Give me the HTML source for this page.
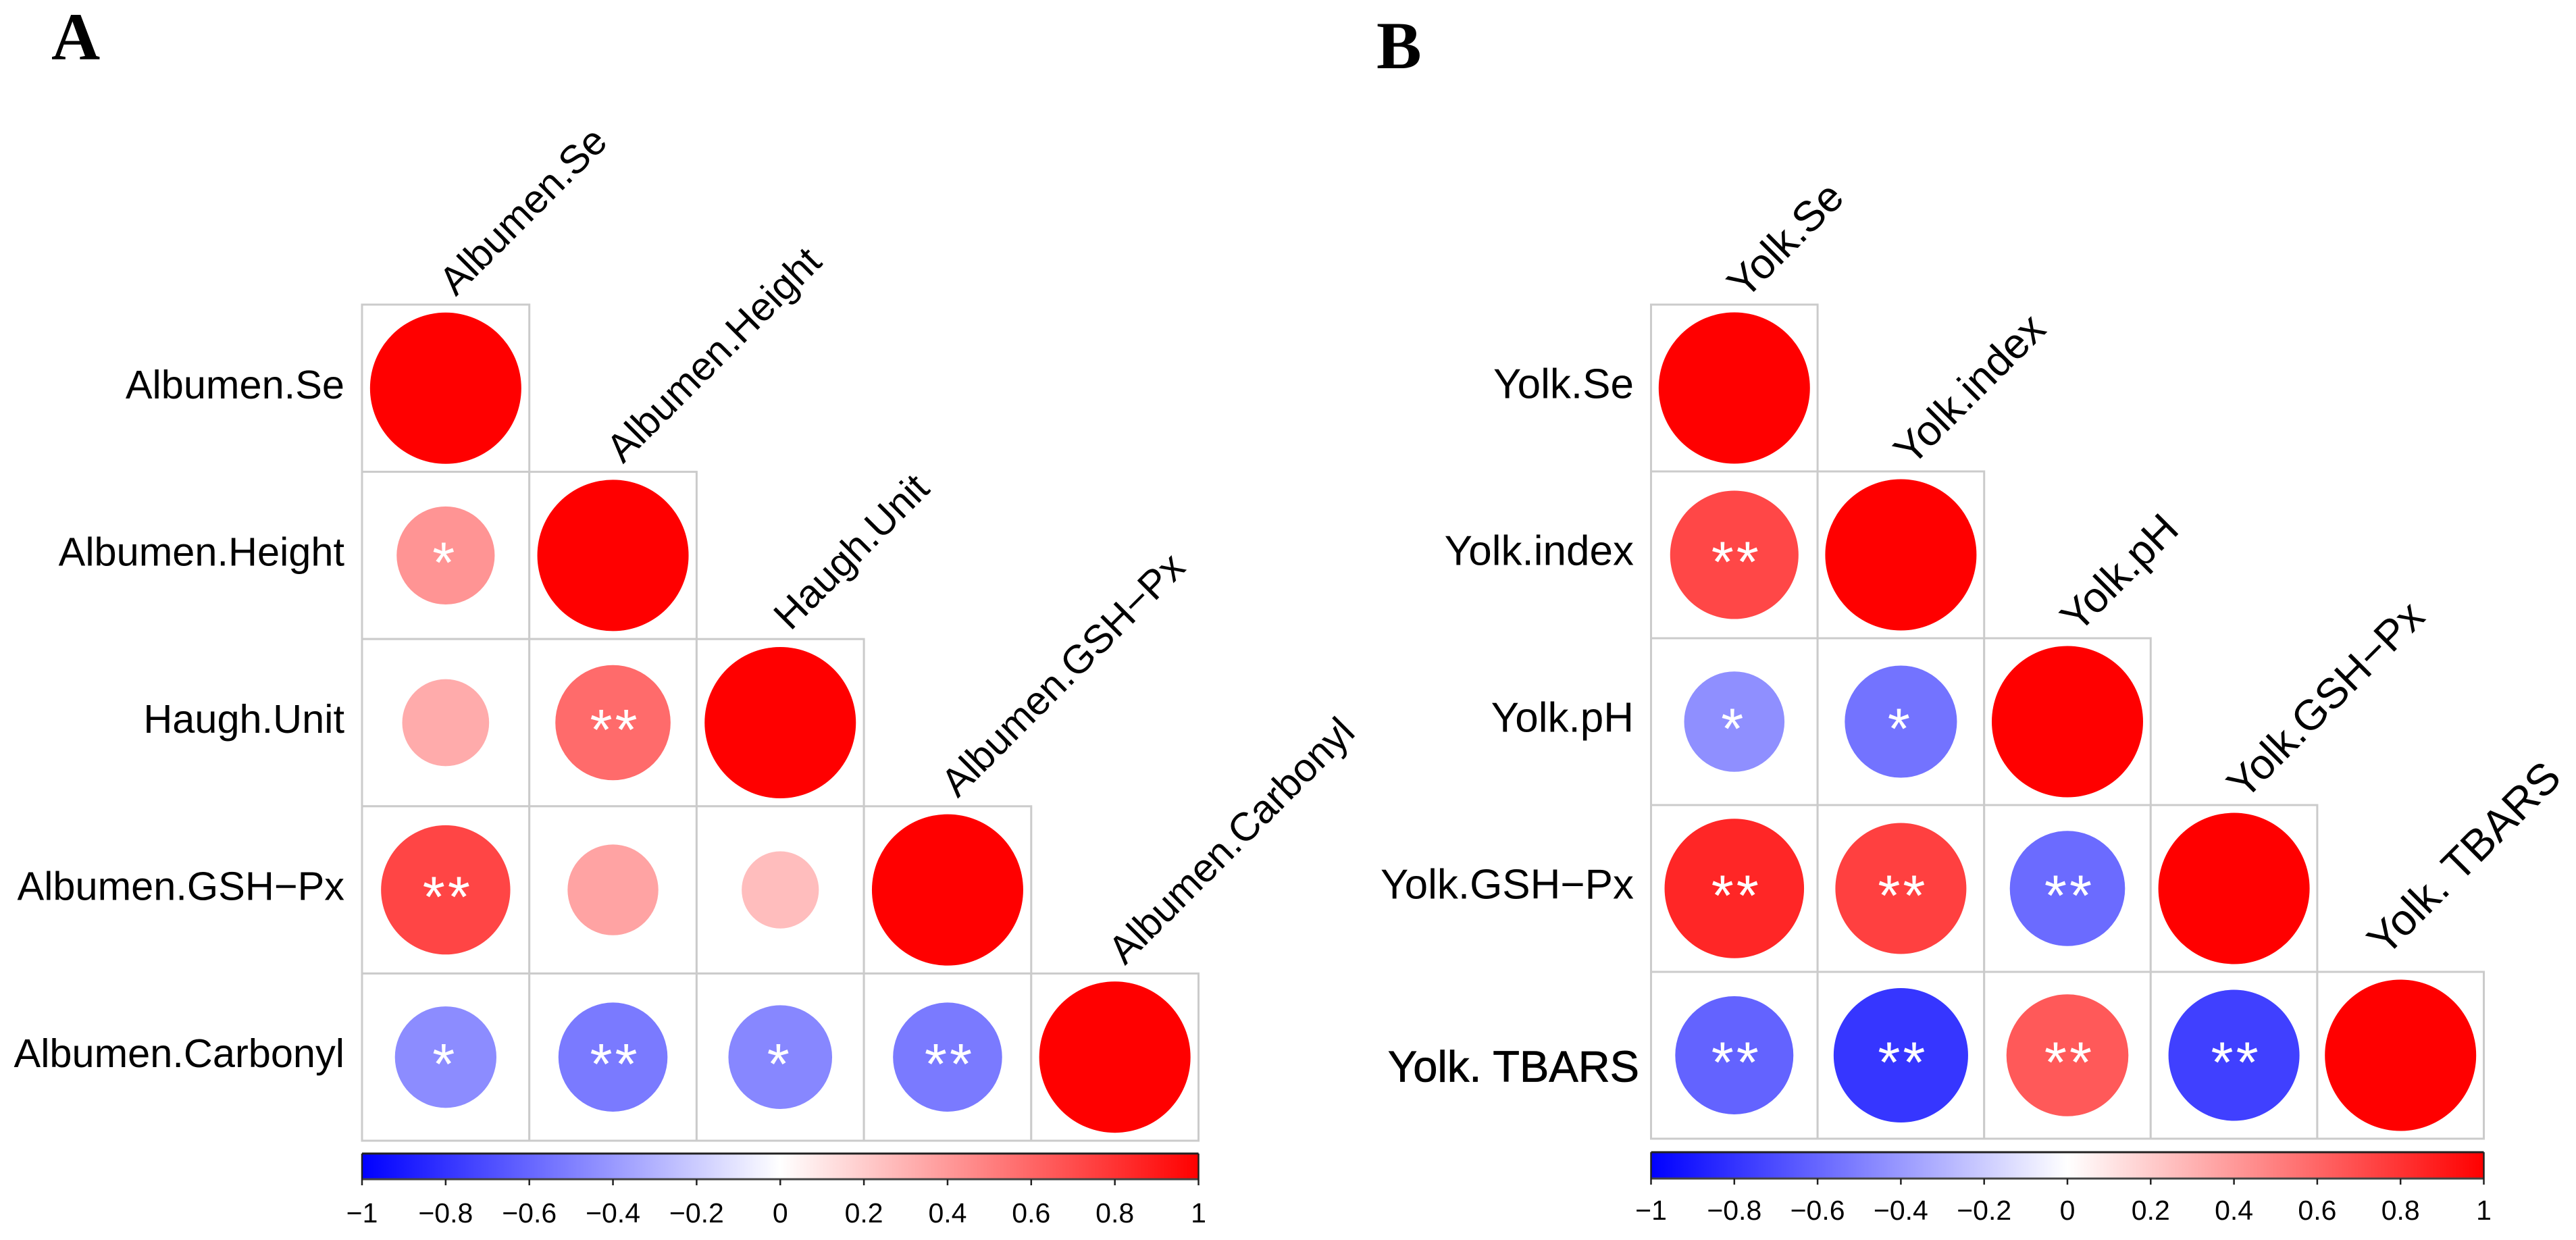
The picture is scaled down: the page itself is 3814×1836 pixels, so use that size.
<!DOCTYPE html>
<html lang="en">
<head>
<meta charset="utf-8">
<title>Correlation matrices: albumen and yolk traits</title>
<style>
html,body{margin:0;padding:0;background:#fff;width:3814px;height:1836px;overflow:hidden}
svg{display:block}
text{font-family:"Liberation Sans",Arial,sans-serif;fill:#000}
.panel-title{font-family:"Liberation Serif","Times New Roman",serif;font-weight:700;font-size:100px}
</style>
</head>
<body>
<svg id="figure" xmlns="http://www.w3.org/2000/svg" width="3814" height="1836" viewBox="0 0 3814 1836">
  <rect x="0" y="0" width="3814" height="1836" fill="#fff"/>
  <text class="panel-title" x="76" y="88">A</text>
  <text class="panel-title" x="2038" y="101">B</text>
  <g id="panel-a"></g>
  <g id="panel-b"></g>
</svg>
<script>
const labelsA = ['Albumen.Se', 'Albumen.Height', 'Haugh.Unit', 'Albumen.GSH\u2212Px', 'Albumen.Carbonyl'];
const labelsB = ['Yolk.Se', 'Yolk.index', 'Yolk.pH', 'Yolk.GSH\u2212Px', 'Yolk. TBARS'];

const valuesA = [
  [1],
  [0.42, 1],
  [0.33, 0.58, 1],
  [0.73, 0.36, 0.26, 1],
  [-0.45, -0.52, -0.47, -0.52, 1]
];
const starsA = [
  [0],
  [1, 0],
  [0, 2, 0],
  [2, 0, 0, 0],
  [1, 2, 1, 2, 0]
];

const valuesB = [
  [1],
  [0.72, 1],
  [-0.44, -0.55, 1],
  [0.85, 0.75, -0.58, 1],
  [-0.61, -0.79, 0.65, -0.75, 1]
];
const starsB = [
  [0],
  [2, 0],
  [1, 1, 0],
  [2, 2, 2, 0],
  [2, 2, 2, 2, 0]
];

const tickValues = [-1, -0.8, -0.6, -0.4, -0.2, 0, 0.2, 0.4, 0.6, 0.8, 1];
const tickLabels = ['\u22121', '\u22120.8', '\u22120.6', '\u22120.4', '\u22120.2', '0', '0.2', '0.4', '0.6', '0.8', '1'];

const SVG_NS = 'http://www.w3.org/2000/svg';
const MAX_RADIUS = 112;

function make(parent, tag, attrs) {
  const el = document.createElementNS(SVG_NS, tag);
  for (const k in attrs) el.setAttribute(k, attrs[k]);
  parent.appendChild(el);
  return el;
}

function colorOf(v) {
  const t = Math.min(1, Math.abs(v));
  const c = Math.round(255 * (1 - t));
  return v >= 0 ? `rgb(255,${c},${c})` : `rgb(${c},${c},255)`;
}

function radiusOf(v) {
  return MAX_RADIUS * Math.sqrt(Math.abs(v));
}

function drawPanel(root, cfg) {
  const xScale = i => cfg.x0 + cfg.cw * i;
  const yScale = i => cfg.y0 + cfg.ch * i;
  const barScale = v => cfg.x0 + (v + 1) / 2 * cfg.cw * cfg.labels.length;

  cfg.values.forEach((row, r) => {
    row.forEach((v, c) => {
      const cell = make(root, 'rect', {
        x: xScale(c), y: yScale(r), width: cfg.cw, height: cfg.ch,
        fill: '#fff', stroke: '#cbcbcb', 'stroke-width': 3
      });
      
      
    });
  });

  cfg.values.forEach((row, r) => {
    row.forEach((v, c) => {
      const cx = xScale(c) + cfg.cw / 2;
      const cy = yScale(r) + cfg.ch / 2;
      const circle = make(root, 'circle', {cx: cx, cy: cy, r: radiusOf(v), fill: colorOf(v)});
      
      
      const n = cfg.stars[r][c];
      if (n > 0) {
        const star = make(root, 'text', {
          x: cx + (n === 1 ? -1 : 3), y: cy + 40, 'text-anchor': 'middle',
          'font-size': 85, 'letter-spacing': 4
        });
        star.style.fill = '#fff';
        star.textContent = '*'.repeat(n);
        
        
      }
    });
  });

  cfg.labels.forEach((label, i) => {
    const special = label === 'Yolk. TBARS';
    const rowLabel = make(root, 'text', {
      x: cfg.labelRight + (special ? 8 : 0),
      y: yScale(i) + cfg.ch / 2 + (special ? 39 : 15),
      'text-anchor': 'end',
      'font-size': special ? 65 : cfg.rowFontSize
    });
    if (special) {
      rowLabel.setAttribute('stroke', '#000');
      rowLabel.setAttribute('stroke-width', '0.8');
    }
    rowLabel.textContent = label;
    
    

    const ax = xScale(i) + cfg.cw / 2 + (special ? -22 : cfg.topDx);
    const ay = yScale(i) + (special ? -21 : cfg.topDy);
    const colLabel = make(root, 'text', {
      x: 0, y: 0,
      transform: `translate(${ax} ${ay}) rotate(-45)`,
      'font-size': special ? 65 : cfg.topFontSize
    });
    colLabel.textContent = label;
    
    
  });

  const defs = make(root, 'defs', {});
  const grad = make(defs, 'linearGradient', {id: cfg.id + '-grad', x1: 0, x2: 1, y1: 0, y2: 0});
  [-1, 0, 1].forEach(v => {
    make(grad, 'stop', {offset: (v + 1) / 2, 'stop-color': colorOf(v)});
  });

  const bar = make(root, 'rect', {
    x: barScale(-1), y: cfg.barTop, width: barScale(1) - barScale(-1),
    height: cfg.barBottom - cfg.barTop, fill: `url(#${cfg.id}-grad)`
  });
  
  

  const barTopLine = make(root, 'line', {
    x1: barScale(-1), x2: barScale(1), y1: cfg.barTop, y2: cfg.barTop,
    stroke: '#222', 'stroke-width': 3
  });
  
  

  const barBottomLine = make(root, 'line', {
    x1: barScale(-1), x2: barScale(1), y1: cfg.barBottom, y2: cfg.barBottom,
    stroke: '#444', 'stroke-width': 3
  });
  
  

  tickValues.forEach((v, i) => {
    const isEnd = i === 0 || i === tickValues.length - 1;
    const tick = make(root, 'line', {
      x1: barScale(v), x2: barScale(v),
      y1: isEnd ? cfg.barTop : cfg.barBottom, y2: cfg.barBottom + 9,
      stroke: '#222', 'stroke-width': 2.5
    });
    
    

    const tickText = make(root, 'text', {
      x: barScale(v), y: cfg.tickBaseline, 'text-anchor': 'middle', 'font-size': 41
    });
    tickText.textContent = tickLabels[i];
    
    
  });
}

drawPanel(document.getElementById('panel-a'), {
  id: 'a', labels: labelsA, values: valuesA, stars: starsA,
  x0: 536, y0: 451, cw: 247.7, ch: 247.6,
  labelRight: 510, rowFontSize: 59.5, topFontSize: 59, topDx: 15, topDy: -11,
  barTop: 1708, barBottom: 1746, tickBaseline: 1810
});

drawPanel(document.getElementById('panel-b'), {
  id: 'b', labels: labelsB, values: valuesB, stars: starsB,
  x0: 2444.5, y0: 451, cw: 246.6, ch: 247,
  labelRight: 2419, rowFontSize: 62, topFontSize: 63, topDx: 16, topDy: -6,
  barTop: 1706, barBottom: 1745, tickBaseline: 1806
});
</script>
</body>
</html>
